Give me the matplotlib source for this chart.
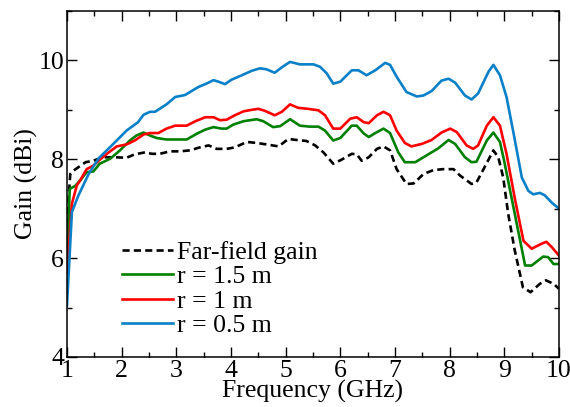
import matplotlib
matplotlib.use("Agg")
import matplotlib.pyplot as plt
from matplotlib.ticker import MultipleLocator

plt.rcParams["font.family"] = ["Liberation Serif", "DejaVu Serif"]

# Far-field gain (dashed black)
ff_freq = [1.0, 1.03, 1.06, 1.12, 1.21, 1.34, 1.48, 1.66, 1.88, 2.09, 2.24, 2.43, 2.55,
           2.70, 2.88, 3.07, 3.25, 3.43, 3.59, 3.74, 3.92, 4.07, 4.29, 4.47, 4.65, 4.87,
           5.05, 5.20, 5.38, 5.54, 5.69, 5.87, 6.02, 6.21, 6.30, 6.39, 6.52, 6.67, 6.79,
           6.91, 7.03, 7.21, 7.34, 7.52, 7.70, 7.88, 8.07, 8.19, 8.40, 8.49, 8.62, 8.80,
           8.89, 8.98, 9.07, 9.19, 9.34, 9.48, 9.65, 9.76, 9.90, 10.0]
ff_gain = [6.2, 7.2, 7.7, 7.77, 7.84, 7.94, 7.97, 8.04, 8.04, 8.03, 8.10, 8.14, 8.11,
           8.11, 8.16, 8.16, 8.18, 8.24, 8.28, 8.21, 8.21, 8.24, 8.35, 8.33, 8.30, 8.26,
           8.41, 8.39, 8.37, 8.28, 8.14, 7.91, 7.99, 8.11, 8.10, 7.97, 8.04, 8.21, 8.26,
           8.18, 7.80, 7.50, 7.51, 7.70, 7.78, 7.80, 7.80, 7.67, 7.50, 7.53, 7.80, 8.18,
           8.04, 7.63, 6.90, 6.16, 5.41, 5.31, 5.48, 5.55, 5.48, 5.38]

# r = 1.5 m (green)
g15_freq = [1.0, 1.05, 1.15, 1.24, 1.36, 1.48, 1.60, 1.79, 1.97, 2.15, 2.27, 2.40, 2.52,
            2.64, 2.82, 3.01, 3.19, 3.38, 3.53, 3.68, 3.83, 3.92, 4.04, 4.23, 4.47, 4.59,
            4.77, 4.90, 5.08, 5.26, 5.44, 5.60, 5.72, 5.87, 6.00, 6.21, 6.30, 6.43, 6.52,
            6.64, 6.79, 6.91, 7.06, 7.18, 7.37, 7.52, 7.79, 7.98, 8.10, 8.28, 8.40, 8.49,
            8.68, 8.80, 8.92, 9.00, 9.38, 9.50, 9.71, 9.80, 9.90, 10.0]
g15_gain = [5.9, 7.40, 7.46, 7.57, 7.74, 7.75, 7.91, 8.01, 8.18, 8.38, 8.48, 8.54, 8.48,
            8.43, 8.40, 8.40, 8.40, 8.52, 8.60, 8.65, 8.62, 8.62, 8.70, 8.77, 8.81, 8.77,
            8.65, 8.67, 8.81, 8.68, 8.66, 8.66, 8.58, 8.38, 8.43, 8.68, 8.68, 8.52, 8.45,
            8.53, 8.62, 8.53, 8.14, 7.94, 7.94, 8.04, 8.22, 8.39, 8.31, 8.04, 7.94, 7.95,
            8.38, 8.54, 8.35, 7.95, 5.85, 5.85, 6.03, 6.02, 5.88, 5.88]

# r = 1 m (red)
r1_freq = [1.0, 1.09, 1.18, 1.24, 1.36, 1.48, 1.60, 1.73, 1.91, 2.09, 2.24, 2.40, 2.52,
           2.67, 2.82, 2.98, 3.19, 3.35, 3.53, 3.68, 3.80, 3.92, 4.07, 4.23, 4.38, 4.50,
           4.62, 4.80, 4.93, 5.08, 5.23, 5.41, 5.60, 5.72, 5.87, 6.00, 6.18, 6.30, 6.43,
           6.52, 6.67, 6.79, 6.91, 7.03, 7.18, 7.30, 7.49, 7.67, 7.85, 8.01, 8.13, 8.31,
           8.43, 8.52, 8.68, 8.80, 8.92, 9.04, 9.20, 9.35, 9.50, 9.68, 9.77, 9.87, 10.0]
r1_gain = [5.7, 7.10, 7.47, 7.57, 7.80, 7.87, 7.99, 8.11, 8.26, 8.30, 8.38, 8.50, 8.53,
           8.53, 8.62, 8.68, 8.68, 8.77, 8.85, 8.85, 8.79, 8.80, 8.89, 8.97, 9.00, 9.02,
           8.98, 8.89, 8.96, 9.11, 9.04, 9.02, 8.99, 8.89, 8.62, 8.62, 8.82, 8.85, 8.75,
           8.73, 8.89, 8.96, 8.89, 8.58, 8.33, 8.26, 8.31, 8.39, 8.54, 8.62, 8.55, 8.28,
           8.21, 8.28, 8.68, 8.85, 8.68, 8.11, 7.16, 6.35, 6.19, 6.29, 6.33, 6.22, 6.05]

# r = 0.5 m (blue)
r05_freq = [1.0, 1.09, 1.21, 1.40, 1.58, 1.82, 2.09, 2.30, 2.40, 2.52, 2.61, 2.82, 2.98,
            3.16, 3.40, 3.55, 3.68, 3.77, 3.89, 4.01, 4.20, 4.38, 4.53, 4.65, 4.80, 4.93,
            5.08, 5.26, 5.51, 5.63, 5.75, 5.87, 6.00, 6.21, 6.33, 6.48, 6.64, 6.82, 6.91,
            7.03, 7.21, 7.40, 7.52, 7.67, 7.85, 7.98, 8.10, 8.28, 8.40, 8.52, 8.71, 8.80,
            8.92, 9.04, 9.17, 9.32, 9.44, 9.53, 9.65, 9.74, 9.87, 10.0]
r05_gain = [5.04, 6.93, 7.27, 7.71, 8.02, 8.28, 8.58, 8.75, 8.90, 8.96, 8.96, 9.11, 9.26,
            9.30, 9.46, 9.53, 9.60, 9.57, 9.52, 9.61, 9.70, 9.79, 9.84, 9.82, 9.75, 9.86,
            9.97, 9.92, 9.92, 9.87, 9.74, 9.53, 9.57, 9.80, 9.80, 9.70, 9.80, 9.95, 9.91,
            9.67, 9.36, 9.27, 9.29, 9.38, 9.59, 9.63, 9.55, 9.29, 9.21, 9.33, 9.77, 9.91,
            9.70, 9.26, 8.52, 7.63, 7.36, 7.29, 7.32, 7.27, 7.12, 7.00]

fig = plt.figure(figsize=(5.70, 4.07), dpi=100)
ax = fig.add_axes([0.1175, 0.123, 0.8632, 0.850])

lw = 1.9
ax.plot(ff_freq, ff_gain, color="black", lw=lw, ls=(0, (2.7, 1.6)), label="Far-field gain")
ax.plot(g15_freq, g15_gain, color="#008000", lw=lw, label="r = 1.5 m")
ax.plot(r1_freq, r1_gain, color="#ff0000", lw=lw, label="r = 1 m")
ax.plot(r05_freq, r05_gain, color="#0a80c8", lw=lw, label="r = 0.5 m")

ax.set_xlim(1, 10)
ax.set_ylim(4, 11)
ax.xaxis.set_major_locator(MultipleLocator(1))
ax.xaxis.set_minor_locator(MultipleLocator(0.5))
ax.yaxis.set_major_locator(MultipleLocator(2))
ax.yaxis.set_minor_locator(MultipleLocator(1))
ax.tick_params(which="both", direction="in", top=True, right=True, labelsize=18.5, width=1.0)
ax.tick_params(which="major", length=7, pad=2)
ax.tick_params(which="minor", length=3.5)
for s in ax.spines.values():
    s.set_linewidth(1.1)

ax.set_xlabel("Frequency (GHz)", fontsize=18.5, labelpad=-1)
ax.set_ylabel("Gain (dBi)", fontsize=18.5, labelpad=0)

ax.legend(loc="lower left", bbox_to_anchor=(0.08, 0.012), frameon=False, fontsize=18.5,
          handlelength=2.0, handletextpad=0.15, labelspacing=0.06, borderaxespad=0.2)

fig.savefig("out.png", dpi=100)
